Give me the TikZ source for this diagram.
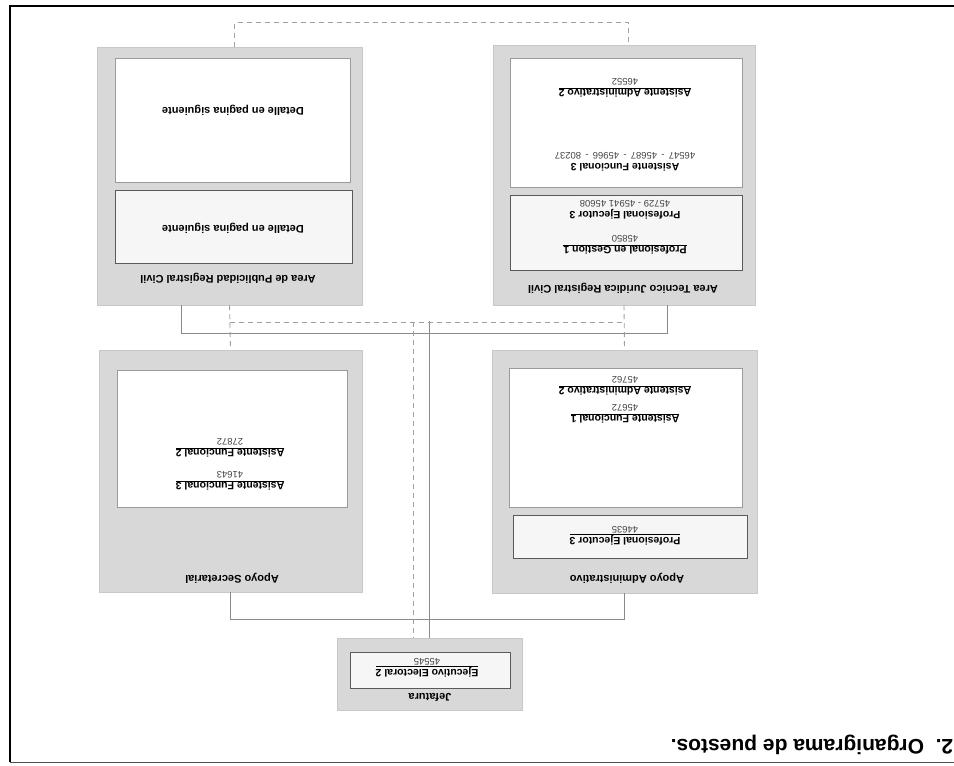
\documentclass[tikz,border=0pt]{standalone}
\usepackage{fontspec}
\setmainfont{Liberation Sans}
\usetikzlibrary{calc}
\definecolor{boxgray}{HTML}{D8D8D8}
\definecolor{boxedge}{HTML}{C8C8C8}
\definecolor{wedge}{HTML}{9A9A9A}
\definecolor{sedge}{HTML}{5A5A5A}
\definecolor{sfill}{HTML}{F6F6F6}
\definecolor{linec}{HTML}{8A8A8A}
\definecolor{dashcol}{HTML}{A0A0A0}
\definecolor{numc}{HTML}{444444}
\newcommand{\numf}[1]{{\fontsize{9.5}{10}\selectfont\mdseries\color{numc}#1}}
\begin{document}
\begin{tikzpicture}[x=1pt,y=-1pt,
  outerbox/.style={fill=boxgray, draw=boxedge, line width=0.4pt, inner sep=0pt},
  whitebox/.style={fill=white, draw=wedge, line width=0.6pt, inner sep=0pt},
  smallbox/.style={fill=sfill, draw=sedge, line width=1pt, inner sep=0pt},
  ttl/.style={rotate=180, font=\fontsize{11}{13}\selectfont\bfseries, inner sep=0pt},
  entry/.style={rotate=180, align=center, font=\fontsize{10.5}{11.5}\selectfont\bfseries, inner sep=0pt},
  solidc/.style={draw=linec, line width=1pt},
  dashc/.style={draw=dashcol, line width=0.9pt, dash pattern=on 5pt off 4pt}]
\useasboundingbox (0,0) rectangle (954,766);
\fill[white] (0,0) rectangle (954,766);
% frame
\draw[line width=1.6pt] (954,6) -- (10,6) -- (10,762);
\draw[line width=1pt, black!70] (10,762) -- (954,762);
\node[rotate=180, font=\fontsize{21}{24}\selectfont\bfseries, inner sep=0pt] (cap) at (812,745) {2.\ \ Organigrama de puestos.};

% outer boxes
\node[outerbox, minimum width=265pt, minimum height=258pt] (pub) at (229.5,176) {};
\node[outerbox, minimum width=262pt, minimum height=260pt] (tec) at (624,175) {};
\node[outerbox, minimum width=263pt, minimum height=242pt] (sec) at (230.5,471) {};
\node[outerbox, minimum width=265pt, minimum height=243pt] (adm) at (624.5,471.5) {};
\node[outerbox, minimum width=185pt, minimum height=72pt] (jef) at (429.5,674) {};

% inner boxes
\node[whitebox, minimum width=235pt, minimum height=124pt] (pubw) at (232.5,120) {};
\node[smallbox, minimum width=237pt, minimum height=73pt] (pubs) at (233.5,226.5) {};
\node[whitebox, minimum width=232pt, minimum height=129pt] (tecw) at (626,122.5) {};
\node[smallbox, minimum width=232pt, minimum height=75pt] (tecs) at (626,232.5) {};
\node[whitebox, minimum width=230pt, minimum height=137pt] (secw) at (232,438.5) {};
\node[whitebox, minimum width=233pt, minimum height=139pt] (admw) at (625.5,437.5) {};
\node[smallbox, minimum width=234pt, minimum height=43pt] (adms) at (630,536.5) {};
\node[smallbox, minimum width=160pt, minimum height=36pt] (jefw) at (430,670) {};

% titles
\node[ttl] (pubt) at (228,278) {Area de Publicidad Registral Civil};
\node[ttl] (tect) at (623,288) {Area Tecnico Juridica Registral Civil};
\node[ttl] (sect) at (232,578) {Apoyo Secretarial};
\node[ttl] (admt) at (627,578) {Apoyo Administrativo};
\node[ttl] (jeft) at (430,697) {Jefatura};

% entries
\node[ttl] (pubd1) at (233,110) {Detalle en pagina siguiente};
\node[ttl] (pubd2) at (233,228) {Detalle en pagina siguiente};

\node[entry] (tec1) at (625,245) {\underline{Profesional en Gestion 1}\\\numf{45850}};
\node[entry] (tec2) at (625,210) {Profesional Ejecutor 3\\\numf{45729 - 45941 45608}};
\node[entry] (tec3) at (625,162) {Asistente Funcional 3\\\numf{46547\, - \,45687\, - \,45966\, - \,80237}};
\node[entry] (tec4) at (625,88) {\underline{Asistente Administrativo 2}\\\numf{46552}};

\node[entry] (sec1) at (230,481) {\underline{Asistente Funcional 3}\\\numf{41643}};
\node[entry] (sec2) at (230,448) {\underline{Asistente Funcional 2}\\\numf{27872}};

\node[entry] (adm1) at (625,536) {\underline{Profesional Ejecutor 3}\\\numf{44635}};
\node[entry] (adm2) at (625,414) {\underline{Asistente Funcional 1}\\\numf{45672}};
\node[entry] (adm3) at (625,386) {\underline{Asistente Administrativo 2}\\\numf{45762}};

\node[entry] (jef1) at (427,668) {\underline{Ejecutivo Electoral 2}\\\numf{45545}};

% connectors
\coordinate (pubsl) at ($(pub.south west)+(85,0)$);
\coordinate (tecsr) at ($(tec.south east)+(-88,0)$);
\coordinate (jtop) at (429.5,321);
\coordinate (jd) at (413,322);
\draw[solidc] (sec.south) -- ++(0,27) -| (adm.south);
\draw[solidc] (jef.north) -- (jtop);
\draw[solidc] (pubsl) -- ++(0,28) -| (tecsr);
\draw[dashc] (pub.south) -- (sec.north);
\draw[dashc] (tec.south) -- (adm.north);
\draw[dashc] ($(pub.south)+(0,17)$) -- ($(tec.south)+(-2,17)$);
\draw[dashc] (jd) -- (jd |- jef.north);
\draw[dashc] ($(pub.north)+(5,0)$) -- ++(0,-24) -| ($(tec.north)+(4,0)$);
\end{tikzpicture}
\end{document}
